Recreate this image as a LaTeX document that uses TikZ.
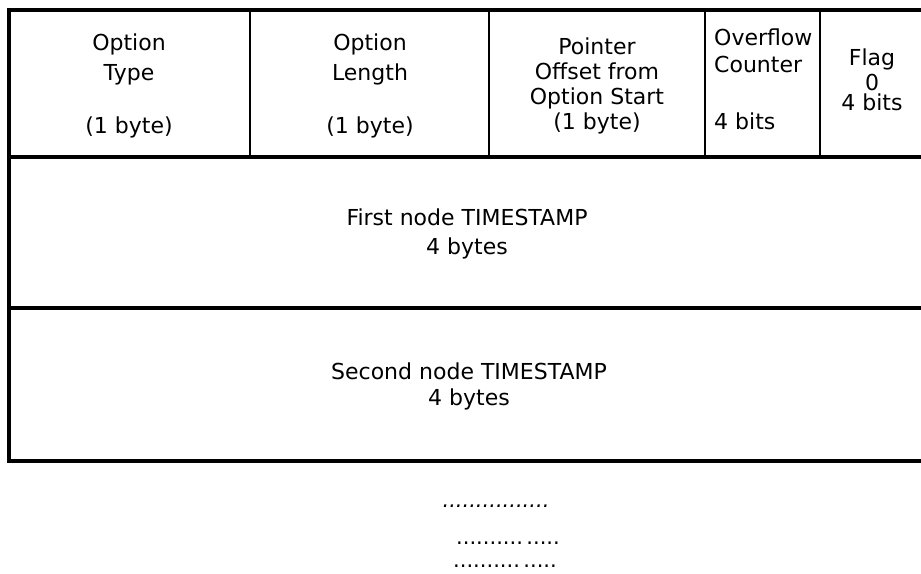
\documentclass[tikz,border=0pt]{standalone}
\usepackage{fontspec}
\setmainfont{DejaVu Sans}
\begin{document}
\begin{tikzpicture}[x=1pt,y=-1pt,
  rule/.style={line width=3.2pt,line cap=rect},
  sep/.style={line width=2.8pt},
  lbl/.style={inner sep=0pt,align=center,font=\fontsize{22}{25}\selectfont},
  lblL/.style={lbl,align=left,anchor=north west},
  dots/.style={inner sep=0pt,anchor=base,font=\fontsize{21}{25}\selectfont}]
\useasboundingbox (0,0) rectangle (921,573);
% frame
\draw[rule] (921,10) -- (9,10) -- (9,461) -- (921,461);
\draw[rule] (9,157) -- (921,157);
\draw[rule] (9,308) -- (921,308);
\foreach \x in {250,489,705,820} \draw[sep] (\x,10) -- (\x,157);
% header cells
\node[lbl,anchor=north] (otype) at (129,34) {Option\\[5pt]Type\\[28pt](1 byte)};
\node[lbl,anchor=north] (olen) at (370,34) {Option\\[5pt]Length\\[28pt](1 byte)};
\node[lbl,anchor=north] (ptr) at (597,38) {Pointer\\Offset from\\Option Start\\(1 byte)};
\node[lblL] (ovf) at (714,29) {Overflow\\[2pt]Counter\\[32pt]4 bits};
\node[lbl,anchor=north] (flag) at (872,49) {Flag\\0\\[-5pt]4 bits};
% timestamps
\node[lbl,anchor=north] (ts1) at (467,209) {First node TIMESTAMP\\[4pt]4 bytes};
\node[lbl,anchor=north] (ts2) at (469,363) {Second node TIMESTAMP\\[1pt]4 bytes};
% continuation dots
\node[dots,font=\fontsize{21}{25}\selectfont\itshape] (d1) at (496,507) {................};
\node[dots] (d2) at (508,544) {..........\,.....};
\node[dots] (d3) at (505,567) {..........\,.....};
\end{tikzpicture}
\end{document}
